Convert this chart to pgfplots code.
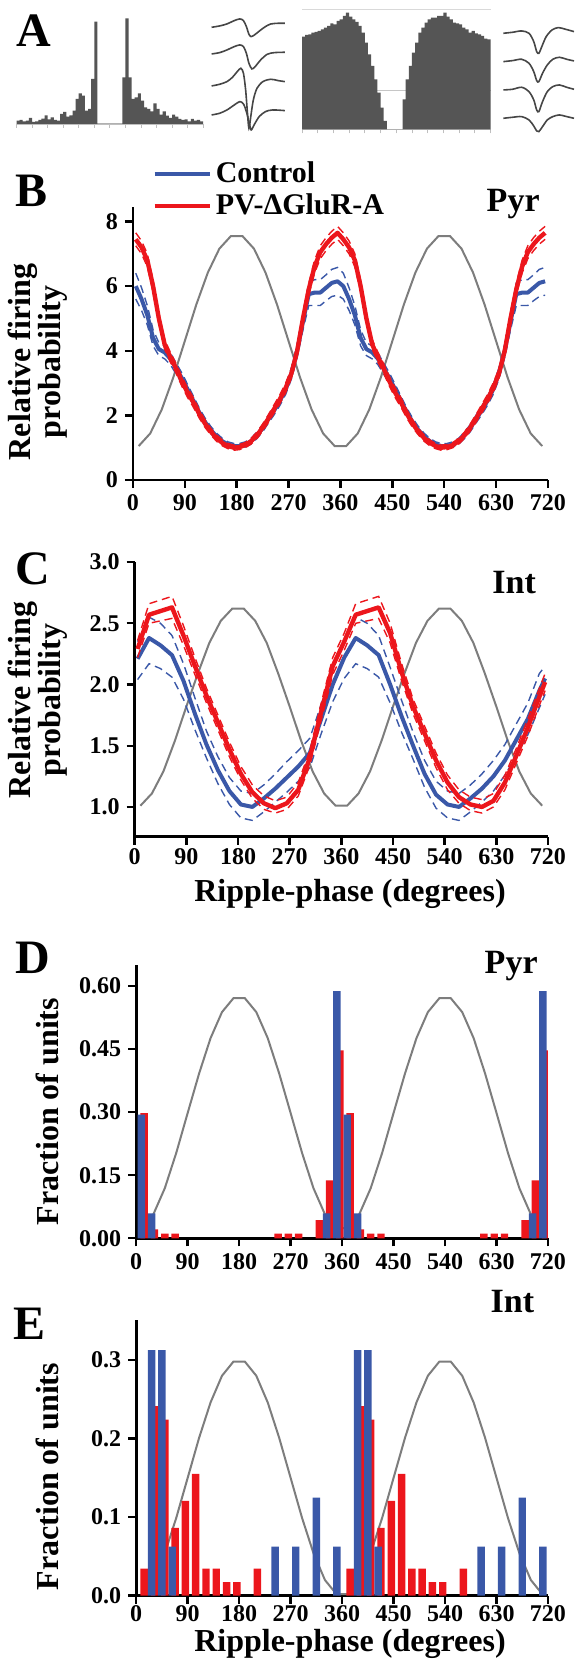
\documentclass[border=0pt]{standalone}
\usepackage{fontspec}
\setmainfont{Liberation Serif}
\usepackage{pgfplots}
\pgfplotsset{compat=1.18}
\usepackage{pgfplotstable}

\definecolor{cblue}{RGB}{58,88,168}
\definecolor{cred}{RGB}{236,22,28}
\definecolor{cgray}{RGB}{125,125,125}
\definecolor{agray}{RGB}{85,85,85}
\definecolor{wgray}{RGB}{70,70,70}

\newcommand\tickfont{\fontsize{12}{12}\selectfont\bfseries}
\newcommand\labfont{\fontsize{16}{15}\selectfont\bfseries}
\newcommand\letfont{\fontsize{24}{24}\selectfont\bfseries}
\newcommand\celfont{\fontsize{17}{17}\selectfont\bfseries}
\newcommand\legfont{\fontsize{15}{15}\selectfont\bfseries}

% gray reference wave, one column per panel
\pgfplotstableread{
x   gb   gc   gd    ge
10  1.05 1.01 0.024 0.002
30  1.44 1.11 0.057 0.020
50  2.18 1.29 0.119 0.054
70  3.17 1.54 0.203 0.099
90  4.30 1.82 0.298 0.150
110 5.43 2.09 0.392 0.201
130 6.42 2.34 0.476 0.246
150 7.16 2.52 0.538 0.280
170 7.55 2.62 0.571 0.298
190 7.55 2.62 0.571 0.298
210 7.16 2.52 0.538 0.280
230 6.42 2.34 0.476 0.246
250 5.43 2.09 0.392 0.201
270 4.30 1.82 0.298 0.150
290 3.17 1.54 0.203 0.099
310 2.18 1.29 0.119 0.054
330 1.44 1.11 0.057 0.020
350 1.05 1.01 0.024 0.002
370 1.05 1.01 0.024 0.002
390 1.44 1.11 0.057 0.020
410 2.18 1.29 0.119 0.054
430 3.17 1.54 0.203 0.099
450 4.30 1.82 0.298 0.150
470 5.43 2.09 0.392 0.201
490 6.42 2.34 0.476 0.246
510 7.16 2.52 0.538 0.280
530 7.55 2.62 0.571 0.298
550 7.55 2.62 0.571 0.298
570 7.16 2.52 0.538 0.280
590 6.42 2.34 0.476 0.246
610 5.43 2.09 0.392 0.201
630 4.30 1.82 0.298 0.150
650 3.17 1.54 0.203 0.099
670 2.18 1.29 0.119 0.054
690 1.44 1.11 0.057 0.020
710 1.05 1.01 0.024 0.002
}\tgray

% panel B: red = PV, blue = control, l/h = dashed bounds
\pgfplotstableread{
x   r    rl   rh   b    bl   bh
5   7.45 7.25 7.65 6.00 5.60 6.40
15  7.20 7.00 7.40 5.60 5.25 5.95
25  6.80 6.60 7.00 5.10 4.80 5.40
35  6.00 5.82 6.18 4.40 4.15 4.65
45  5.00 4.85 5.15 4.05 3.85 4.25
55  4.20 4.05 4.35 3.95 3.75 4.15
65  3.80 3.65 3.95 3.75 3.57 3.93
75  3.45 3.30 3.60 3.45 3.28 3.62
85  3.05 2.90 3.20 3.15 2.99 3.31
95  2.70 2.55 2.85 2.80 2.65 2.95
105 2.40 2.25 2.55 2.45 2.31 2.59
115 2.05 1.92 2.18 2.10 1.97 2.23
125 1.75 1.63 1.87 1.80 1.68 1.92
135 1.50 1.40 1.60 1.55 1.44 1.66
145 1.30 1.20 1.40 1.35 1.25 1.45
155 1.15 1.06 1.24 1.20 1.11 1.29
165 1.05 0.97 1.13 1.10 1.02 1.18
175 1.00 0.92 1.08 1.05 0.97 1.13
185 1.02 0.94 1.10 1.05 0.97 1.13
195 1.08 1.00 1.16 1.10 1.02 1.18
205 1.20 1.11 1.29 1.20 1.11 1.29
215 1.38 1.28 1.48 1.38 1.28 1.48
225 1.62 1.51 1.73 1.60 1.49 1.71
235 1.90 1.78 2.02 1.88 1.76 2.00
245 2.20 2.07 2.33 2.15 2.02 2.28
255 2.50 2.36 2.64 2.45 2.31 2.59
265 2.85 2.70 3.00 2.80 2.65 2.95
275 3.30 3.15 3.45 3.30 3.13 3.47
285 4.00 3.85 4.15 4.00 3.80 4.20
295 5.00 4.84 5.16 4.90 4.65 5.15
305 5.90 5.72 6.08 5.75 5.40 6.10
315 6.60 6.40 6.80 5.80 5.40 6.20
325 7.05 6.85 7.25 5.80 5.40 6.20
335 7.30 7.10 7.50 5.95 5.55 6.35
345 7.50 7.30 7.70 6.10 5.68 6.52
355 7.65 7.45 7.85 6.15 5.72 6.58
365 7.45 7.25 7.65 6.00 5.60 6.40
375 7.20 7.00 7.40 5.60 5.25 5.95
385 6.80 6.60 7.00 5.10 4.80 5.40
395 6.00 5.82 6.18 4.40 4.15 4.65
405 5.00 4.85 5.15 4.05 3.85 4.25
415 4.20 4.05 4.35 3.95 3.75 4.15
425 3.80 3.65 3.95 3.75 3.57 3.93
435 3.45 3.30 3.60 3.45 3.28 3.62
445 3.05 2.90 3.20 3.15 2.99 3.31
455 2.70 2.55 2.85 2.80 2.65 2.95
465 2.40 2.25 2.55 2.45 2.31 2.59
475 2.05 1.92 2.18 2.10 1.97 2.23
485 1.75 1.63 1.87 1.80 1.68 1.92
495 1.50 1.40 1.60 1.55 1.44 1.66
505 1.30 1.20 1.40 1.35 1.25 1.45
515 1.15 1.06 1.24 1.20 1.11 1.29
525 1.05 0.97 1.13 1.10 1.02 1.18
535 1.00 0.92 1.08 1.05 0.97 1.13
545 1.02 0.94 1.10 1.05 0.97 1.13
555 1.08 1.00 1.16 1.10 1.02 1.18
565 1.20 1.11 1.29 1.20 1.11 1.29
575 1.38 1.28 1.48 1.38 1.28 1.48
585 1.62 1.51 1.73 1.60 1.49 1.71
595 1.90 1.78 2.02 1.88 1.76 2.00
605 2.20 2.07 2.33 2.15 2.02 2.28
615 2.50 2.36 2.64 2.45 2.31 2.59
625 2.85 2.70 3.00 2.80 2.65 2.95
635 3.30 3.15 3.45 3.30 3.13 3.47
645 4.00 3.85 4.15 4.00 3.80 4.20
655 5.00 4.84 5.16 4.90 4.65 5.15
665 5.90 5.72 6.08 5.75 5.40 6.10
675 6.60 6.40 6.80 5.80 5.40 6.20
685 7.05 6.85 7.25 5.80 5.40 6.20
695 7.30 7.10 7.50 5.95 5.55 6.35
705 7.50 7.30 7.70 6.10 5.68 6.52
715 7.65 7.45 7.85 6.15 5.72 6.58
}\tB

% panel C
\pgfplotstableread{
x   r    rl   rh   b    bl   bh
5   2.29 2.22 2.36 2.21 2.04 2.35
25  2.57 2.50 2.66 2.38 2.17 2.55
45  2.60 2.52 2.69 2.32 2.13 2.50
65  2.63 2.54 2.72 2.24 2.06 2.40
85  2.40 2.32 2.48 2.03 1.88 2.17
105 2.15 2.08 2.22 1.76 1.63 1.89
125 1.91 1.85 1.97 1.51 1.40 1.62
145 1.69 1.63 1.75 1.30 1.19 1.41
165 1.47 1.41 1.53 1.13 1.02 1.24
185 1.27 1.22 1.33 1.02 0.91 1.13
205 1.12 1.07 1.18 1.00 0.89 1.11
225 1.03 0.98 1.09 1.07 0.96 1.18
245 0.99 0.95 1.05 1.15 1.04 1.27
265 1.03 0.98 1.08 1.24 1.12 1.37
285 1.14 1.09 1.20 1.33 1.21 1.46
305 1.40 1.34 1.46 1.44 1.32 1.56
325 1.78 1.71 1.85 1.72 1.60 1.84
345 2.15 2.08 2.22 2.00 1.86 2.14
365 2.35 2.28 2.42 2.22 2.05 2.37
385 2.57 2.50 2.66 2.38 2.17 2.55
405 2.60 2.52 2.69 2.32 2.13 2.50
425 2.63 2.54 2.72 2.24 2.06 2.40
445 2.42 2.34 2.50 2.00 1.85 2.14
465 2.10 2.03 2.17 1.74 1.61 1.87
485 1.82 1.76 1.88 1.50 1.39 1.61
505 1.60 1.54 1.66 1.27 1.16 1.38
525 1.38 1.32 1.44 1.10 0.99 1.21
545 1.20 1.14 1.26 1.02 0.91 1.13
565 1.08 1.03 1.14 1.00 0.89 1.11
585 1.02 0.97 1.08 1.07 0.96 1.18
605 1.00 0.95 1.06 1.15 1.04 1.27
625 1.05 1.00 1.11 1.25 1.13 1.38
645 1.20 1.14 1.26 1.38 1.26 1.51
665 1.42 1.36 1.48 1.55 1.42 1.68
685 1.65 1.58 1.72 1.72 1.59 1.85
705 1.90 1.83 1.97 1.95 1.81 2.09
715 2.02 1.95 2.09 2.05 1.92 2.15
}\tC

% panel D bars
\pgfplotstableread{
x   y
9   0.294
27  0.059
333 0.059
351 0.588
369 0.294
387 0.059
693 0.059
711 0.588
}\tDb
\pgfplotstableread{
x   y
14  0.298
32  0.021
50  0.011
68  0.011
248 0.011
266 0.011
284 0.011
320 0.043
338 0.138
356 0.447
374 0.298
392 0.021
410 0.011
428 0.011
608 0.011
626 0.011
644 0.011
680 0.043
698 0.138
716 0.447
}\tDr

% panel E bars
\pgfplotstableread{
x   y
27  0.3125
45  0.3125
63  0.0625
243 0.0625
279 0.0625
315 0.125
351 0.0625
387 0.3125
405 0.3125
423 0.0625
603 0.0625
639 0.0625
675 0.125
711 0.0625
}\tEb
\pgfplotstableread{
x   y
14  0.0345
32  0.2414
50  0.2241
68  0.0862
86  0.1207
104 0.1552
122 0.0345
140 0.0345
158 0.0172
176 0.0172
212 0.0345
374 0.0345
392 0.2414
410 0.2241
428 0.0862
446 0.1207
464 0.1552
482 0.0345
500 0.0345
518 0.0172
536 0.0172
572 0.0345
}\tEr

% panel A histograms
\pgfplotstableread{
i h
0 10
1 12
2 8
3 10
4 18
5 6
6 8
7 12
8 16
9 26
10 14
11 20
12 12
13 10
14 30
15 36
16 22
17 26
18 40
19 75
20 92
21 85
22 40
23 45
24 135
25 307
26 0
27 0
28 0
29 0
30 0
31 0
32 0
33 0
34 140
35 317
36 140
37 75
38 80
39 92
40 70
41 50
42 45
43 38
44 62
45 45
46 28
47 38
48 25
49 18
50 28
51 22
52 15
53 12
54 14
55 8
56 15
57 10
58 12
59 8
60 0
}\tAa
\pgfplotstableread{
i h
0 278
1 283
2 285
3 290
4 292
5 295
6 300
7 305
8 310
9 318
10 315
11 325
12 330
13 340
14 350
15 338
16 330
17 322
18 310
19 290
20 260
21 225
22 190
23 150
24 110
25 65
26 25
27 0
28 0
29 0
30 0
31 0
32 90
33 150
34 190
35 230
36 260
37 290
38 305
39 320
40 330
41 335
42 335
43 340
44 340
45 350
46 338
47 330
48 320
49 318
50 315
51 305
52 300
53 290
54 295
55 288
56 285
57 280
58 272
59 270
60 0
}\tAb

\pgfplotsset{
  panel/.style={
    scale only axis, anchor=south west,
    axis lines=left, axis line style={-, line width=1.3pt},
    xmin=0, xmax=720, xtick={0,90,...,720},
    tick align=outside, major tick length=4pt,
    tick style={line width=1.2pt, black},
    tick label style={font=\tickfont},
    /pgf/number format/assume math mode=true,
  },
  wave/.style={
    scale only axis, anchor=south west, hide axis,
    y dir=reverse, ymin=40, ymax=400, clip=false,
  },
  hist/.style={
    scale only axis, anchor=south west,
    axis x line=bottom, axis y line=none,
    x axis line style={-, gray!50, line width=0.6pt},
    xmin=0, xmax=60, ymin=0,
    xtick={0,5,...,60}, xticklabels={}, ytick=\empty,
    tick align=outside, major tick length=2pt,
    xtick style={gray!50, line width=0.4pt}, clip=false,
  },
}

\begin{document}
\begin{tikzpicture}
\path[use as bounding box] (0,0) rectangle (287pt,834.5pt);

% ---------- A ----------
\begin{axis}[hist, at={(8.25pt,772.5pt)}, width=93.35pt, height=55pt, ymax=330]
  \addplot[ybar interval, fill=agray, draw=none] table[x=i, y=h] {\tAa};
\end{axis}
\begin{axis}[wave, at={(105.25pt,767.85pt)}, width=37.52pt, height=60pt, xmin=575, xmax=780]
  \addplot[wgray, line width=0.8pt, smooth] coordinates {(578,82)(600,78)(620,72)(640,62)(655,57)(665,62)(673,80)(680,103)(686,110)(695,105)(710,92)(725,80)(740,72)(760,70)(778,70)};
  \addplot[wgray, line width=0.8pt, smooth] coordinates {(578,162)(600,158)(620,150)(640,140)(655,135)(665,140)(673,160)(680,190)(688,207)(697,200)(712,180)(730,163)(750,158)(778,157)};
  \addplot[wgray, line width=0.8pt, smooth] coordinates {(578,258)(600,253)(620,245)(635,232)(648,215)(658,205)(665,220)(671,270)(676,340)(680,385)(685,350)(692,300)(702,265)(718,245)(740,238)(760,242)(778,245)};
  \addplot[wgray, line width=0.8pt, smooth] coordinates {(578,345)(600,340)(620,330)(640,315)(655,305)(665,312)(673,335)(680,365)(686,390)(694,375)(708,350)(725,335)(745,330)(778,332)};
\end{axis}
\begin{axis}[hist, at={(151pt,769.85pt)}, width=94.25pt, height=60pt, ymax=360]
  \addplot[gray!30, line width=0.5pt] coordinates {(0,358)(60,358)};
  \addplot[gray!45, line width=0.5pt] coordinates {(0,116)(60,116)};
  \addplot[ybar interval, fill=agray, draw=none] table[x=i, y=h] {\tAb};
\end{axis}
\begin{axis}[wave, at={(251.68pt,767.85pt)}, width=35.33pt, height=60pt, xmin=1375, xmax=1568]
  \addplot[wgray, line width=0.8pt, smooth] coordinates {(1375,100)(1400,97)(1425,93)(1445,100)(1458,125)(1466,155)(1472,160)(1480,140)(1492,110)(1508,90)(1525,83)(1545,88)(1568,95)};
  \addplot[wgray, line width=0.8pt, smooth] coordinates {(1375,185)(1400,182)(1425,178)(1445,190)(1458,215)(1466,242)(1472,245)(1482,220)(1495,195)(1510,178)(1528,172)(1548,178)(1568,183)};
  \addplot[wgray, line width=0.8pt, smooth] coordinates {(1375,270)(1400,268)(1425,262)(1445,275)(1458,300)(1466,330)(1472,335)(1482,305)(1495,275)(1510,260)(1528,255)(1548,262)(1568,268)};
  \addplot[wgray, line width=0.8pt, smooth] coordinates {(1375,355)(1400,352)(1425,350)(1445,360)(1458,378)(1466,393)(1472,395)(1482,380)(1495,360)(1510,350)(1528,345)(1548,350)(1568,355)};
\end{axis}

% ---------- B ----------
\begin{axis}[panel, at={(66.45pt,594.5pt)}, width=207.55pt, height=136.65pt,
    ymin=0, ymax=8.46, ytick={0,2,4,6,8},
    xticklabel style={yshift=0.5pt},
    legend cell align=left,
    legend style={at={(axis description cs:0.046,1.061)}, anchor=west,
      draw=none, fill=none, inner sep=0pt, font=\legfont, row sep=0pt},
    legend image code/.code={\draw[#1, line width=2.2pt] (0pt,0pt) -- (27.5pt,0pt);}]
  \addplot[cgray, line width=1pt, forget plot] table[x=x, y=gb] {\tgray};
  \addplot[cblue, line width=0.7pt, dash pattern=on 4pt off 2.5pt, forget plot] table[x=x, y=bl] {\tB};
  \addplot[cblue, line width=0.7pt, dash pattern=on 4pt off 2.5pt, forget plot] table[x=x, y=bh] {\tB};
  \addplot[cblue, line width=2pt, line join=round] table[x=x, y=b] {\tB};
  \addlegendentry{Control}
  \addplot[cred, line width=0.7pt, dash pattern=on 4pt off 2.5pt, forget plot] table[x=x, y=rl] {\tB};
  \addplot[cred, line width=0.7pt, dash pattern=on 4pt off 2.5pt, forget plot] table[x=x, y=rh] {\tB};
  \addplot[cred, line width=2.2pt, line join=round] table[x=x, y=r] {\tB};
  \addlegendentry{PV-ΔGluR-A}
\end{axis}

% ---------- C ----------
\begin{axis}[panel, at={(67.35pt,416.15pt)}, width=206.65pt, height=137.3pt,
    ymin=0.757, ymax=3.0, ytick={1.0,1.5,2.0,2.5,3.0},
    xticklabel style={yshift=1.5pt},
    yticklabel style={/pgf/number format/.cd, fixed, fixed zerofill, precision=1}]
  \addplot[cgray, line width=1pt] table[x=x, y=gc] {\tgray};
  \addplot[cblue, line width=0.7pt, dash pattern=on 4pt off 2.5pt] table[x=x, y=bl] {\tC};
  \addplot[cblue, line width=0.7pt, dash pattern=on 4pt off 2.5pt] table[x=x, y=bh] {\tC};
  \addplot[cblue, line width=2pt, line join=round] table[x=x, y=b] {\tC};
  \addplot[cred, line width=0.7pt, dash pattern=on 4pt off 2.5pt] table[x=x, y=rl] {\tC};
  \addplot[cred, line width=0.7pt, dash pattern=on 4pt off 2.5pt] table[x=x, y=rh] {\tC};
  \addplot[cred, line width=2.2pt, line join=round] table[x=x, y=r] {\tC};
\end{axis}

% ---------- D ----------
\begin{axis}[panel, at={(68.1pt,215.35pt)}, width=205.9pt, height=136.65pt,
    ymin=0, ymax=0.65, ytick={0,0.15,0.30,0.45,0.60},
    yticklabel style={/pgf/number format/.cd, fixed, fixed zerofill, precision=2}]
  \addplot[cgray, line width=1pt] table[x=x, y=gd] {\tgray};
  \addplot[ybar, bar width=13, bar shift=0pt, fill=cred, draw=none] table[x=x, y=y] {\tDr};
  \addplot[ybar, bar width=13, bar shift=0pt, fill=cblue, draw=none] table[x=x, y=y] {\tDb};
\end{axis}

% ---------- E ----------
\begin{axis}[panel, at={(68.1pt,36.65pt)}, width=205.9pt, height=137.85pt,
    ymin=0, ymax=0.351, ytick={0,0.1,0.2,0.3},
    xticklabel style={yshift=2.5pt},
    yticklabel style={/pgf/number format/.cd, fixed, fixed zerofill, precision=1}]
  \addplot[cgray, line width=1pt] table[x=x, y=ge] {\tgray};
  \addplot[ybar, bar width=13, bar shift=0pt, fill=cred, draw=none] table[x=x, y=y] {\tEr};
  \addplot[ybar, bar width=13, bar shift=0pt, fill=cblue, draw=none] table[x=x, y=y] {\tEb};
\end{axis}

% ---------- text ----------
\node[font=\letfont, anchor=base west, inner sep=0pt] at (8.25pt,811.15pt) {A};
\node[font=\letfont, anchor=base west, inner sep=0pt] at (7.3pt,731.15pt) {B};
\node[font=\letfont, anchor=base west, inner sep=0pt] at (7.3pt,542pt) {C};
\node[font=\letfont, anchor=base west, inner sep=0pt] at (7.3pt,347.85pt) {D};
\node[font=\letfont, anchor=base west, inner sep=0pt] at (6.4pt,164.5pt) {E};

\node[font=\celfont, anchor=base east, inner sep=0pt] at (270pt,728.65pt) {Pyr};
\node[font=\celfont, anchor=base east, inner sep=0pt] at (268.15pt,537.85pt) {Int};
\node[font=\celfont, anchor=base east, inner sep=0pt] at (269pt,347.85pt) {Pyr};
\node[font=\celfont, anchor=base east, inner sep=0pt] at (267.25pt,178pt) {Int};

\node[font=\labfont, rotate=90, align=center, inner sep=0pt] at (19pt,653.5pt) {Relative firing\\probability};
\node[font=\labfont, rotate=90, align=center, inner sep=0pt] at (19pt,484.5pt) {Relative firing\\probability};
\node[font=\labfont, rotate=90, inner sep=0pt] at (23.8pt,278.65pt) {Fraction of units};
\node[font=\labfont, rotate=90, inner sep=0pt] at (23.8pt,96.15pt) {Fraction of units};

\node[font=\labfont, anchor=base, inner sep=0pt] at (175pt,383.5pt) {Ripple-phase (degrees)};
\node[font=\labfont, anchor=base, inner sep=0pt] at (175pt,9pt) {Ripple-phase (degrees)};
\end{tikzpicture}
\end{document}
